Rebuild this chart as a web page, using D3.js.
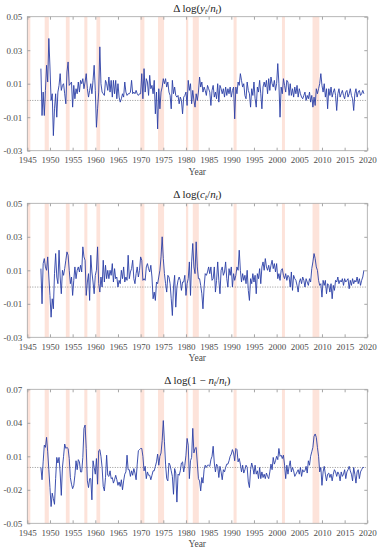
<!DOCTYPE html>
<html>
<head>
<meta charset="utf-8">
<script src="https://cdn.jsdelivr.net/npm/d3@7"></script>
<style>
  body { margin: 0; background: #fff; }
</style>
</head>
<body>
<div id="chart"></div>
<script>
// Quarterly growth rates, first observation 1948Q1
const start_year = 1948;

// Delta log(y/n)
const output_per_worker = [
  0.019, -0.009, 0.005, -0.009,   0.006, 0.021, 0.011, 0.037,   0.020, 0.000, 0.004, -0.021,
  -0.005, 0.004, -0.010, 0.005,   0.009, 0.016, 0.006, 0.009,   0.010, 0.004, -0.002, 0.017,
  0.023, 0.009, 0.010, 0.011,     -0.004, 0.009, 0.001, 0.007,  0.004, 0.011, 0.005, 0.012,
  0.010, 0.013, 0.007, 0.011,     0.016, 0.007, 0.002, 0.006,   0.010, 0.004, 0.012, 0.021,
  0.006, -0.016, -0.005, 0.005,   0.032, 0.010, 0.005, 0.004,   0.003, 0.012, 0.010, 0.006,
  0.014, 0.005, 0.012, 0.002,     0.012, 0.004, 0.012, 0.001,   0.010, 0.002, -0.001, 0.001,
  0.004, 0.002, 0.011, 0.005,     0.003, 0.004, 0.004, 0.005,   0.012, 0.004, 0.005, 0.004,
  0.006, 0.004, 0.003, 0.004,     0.004, 0.016, 0.001, 0.019,   0.005, 0.013, 0.011, 0.003,
  0.015, 0.007, 0.009, 0.004,     0.012, -0.008, 0.005, -0.017, 0.007, -0.005, 0.005, 0.008,
  0.013, 0.010, 0.013, 0.008,     0.011, 0.005, 0.003, -0.005,  0.012, 0.004, 0.008, 0.003,
  0.002, 0.003, -0.002, 0.002,    0.000, -0.008, 0.002, 0.003,  0.005, -0.003, 0.012, 0.006,
  0.010, -0.002, 0.006, 0.000,    -0.004, 0.004, 0.000, 0.005,  0.014, 0.008, 0.011, 0.005,
  0.008, 0.006, 0.003, 0.009,     0.007, 0.005, -0.003, 0.006,  0.009, 0.002, 0.005, 0.001,
  0.010, -0.001, 0.009, 0.007,    0.004, 0.007, 0.002, 0.008,   0.003, 0.007, 0.004, 0.008,
  0.002, 0.006, 0.008, -0.011,    0.008, 0.004, 0.011, 0.009,   0.016, 0.012, 0.008, 0.010,
  0.003, 0.001, 0.011, 0.006,     0.004, -0.004, 0.007, 0.003,  0.011, 0.001, -0.004, 0.008,
  0.005, 0.012, 0.004, -0.005,    0.008, 0.011, 0.008, 0.012,   0.004, 0.013, 0.006, 0.014,
  0.010, 0.008, 0.012, 0.006,     0.010, 0.022, 0.010, -0.010,  0.008, 0.004, 0.013, 0.009,
  0.005, 0.012, 0.011, 0.003,     0.010, 0.003, 0.007, 0.002,   0.008, 0.004, 0.009, 0.002,
  0.007, 0.004, 0.002, 0.001,     0.003, 0.005, 0.000, 0.003,   0.001, 0.005, -0.001, 0.003,
  -0.004, 0.002, -0.003, 0.007,   0.004, 0.007, 0.010, 0.016,   0.009, 0.005, 0.010, 0.002,
  0.007, -0.005, 0.007, 0.003,    0.008, 0.002, 0.005, 0.007,   0.003, -0.006, 0.004, 0.007,
  0.002, 0.004, 0.006, 0.003,     0.001, 0.005, 0.006, 0.002,   0.004, 0.007, 0.003, 0.001,
  -0.006, 0.004, 0.007, 0.002,    0.005, 0.006, 0.003, 0.004,   0.006, 0.004
];

// Delta log(c/n)
const consumption_per_worker = [
  0.011, -0.010, 0.014, 0.017,    0.012, 0.010, 0.018, 0.006,   -0.005, -0.018, -0.007, -0.013,
  0.008, 0.020, 0.006, 0.002,     0.022, 0.006, -0.004, 0.010,  0.007, 0.011, 0.016, 0.021,
  0.019, 0.010, 0.002, 0.006,     -0.005, 0.004, 0.012, 0.005,  0.010, 0.012, 0.009, 0.013,
  0.009, 0.024, 0.018, 0.016,     -0.005, 0.003, 0.008, -0.008, 0.019, 0.009, 0.003, -0.004,
  0.007, 0.010, 0.024, 0.002,     -0.003, 0.006, 0.000, 0.016,  0.003, 0.013, 0.005, 0.010,
  0.005, 0.010, 0.007, 0.014,     0.003, 0.011, 0.005, 0.006,   0.000, 0.004, 0.002, 0.010,
  0.005, 0.012, 0.003, 0.006,     0.004, 0.019, 0.005, 0.009,   0.011, 0.016, 0.005, 0.002,
  0.008, 0.012, 0.006, 0.010,     0.018, 0.016, 0.004, 0.005,   0.004, 0.012, 0.014, 0.011,
  0.009, 0.013, 0.006, -0.007,    -0.003, -0.008, 0.003, 0.002, 0.006, 0.010, 0.018, 0.030,
  0.017, 0.008, 0.002, -0.003,    0.007, 0.006, 0.002, -0.007,  -0.017, 0.000, 0.007, -0.012,
  0.000, 0.004, 0.006, 0.004,     -0.002, 0.003, 0.003, 0.007,  -0.005, 0.002, 0.005, 0.015,
  -0.005, 0.015, 0.026, 0.012,    0.008, 0.027, 0.012, 0.005,   0.005, 0.001, -0.004, -0.013,
  0.000, 0.008, 0.007, 0.009,     0.012, 0.008, 0.012, 0.004,   0.005, 0.012, -0.003, 0.004,
  0.015, 0.004, -0.004, 0.010,    0.012, 0.007, 0.009, 0.015,   0.005, 0.000, 0.011, 0.007,
  0.012, 0.000, 0.008, 0.004,     0.007, 0.012, 0.010, 0.022,   0.010, 0.003, 0.008, 0.004,
  0.007, 0.002, 0.010, -0.002,    -0.008, 0.005, 0.002, 0.008,  0.003, 0.007, -0.004, 0.008,
  0.005, 0.011, 0.002, 0.012,     0.015, 0.010, 0.017, 0.012,   0.010, 0.013, 0.009, 0.013,
  0.016, 0.011, 0.014, 0.009,     0.014, 0.005, 0.008, 0.004,   0.010, 0.011, 0.007, 0.005,
  0.008, 0.004, 0.007, 0.006,     0.000, 0.009, -0.002, 0.007,  0.005, 0.004, 0.001, -0.003,
  0.003, 0.005, 0.002, 0.006,     0.004, 0.000, 0.005, 0.003,   0.001, 0.005, 0.003, 0.011,
  0.015, 0.020, 0.017, 0.012,     0.010, 0.004, 0.001, 0.002,   -0.006, 0.004, 0.001, 0.004,
  -0.004, 0.002, 0.001, -0.003,   0.002, -0.007, 0.001, -0.002, 0.004, 0.003, 0.006, 0.002,
  0.004, 0.003, 0.005, 0.001,     0.005, 0.003, 0.004, 0.005,   -0.001, 0.004, 0.001, 0.005,
  0.002, 0.004, 0.003, 0.006,     0.002, 0.005, 0.001, 0.004,   0.006, 0.010
];

// Delta log(1 - n)
const leisure = [
  0.000, -0.011, 0.005, 0.020,    0.018, 0.027, 0.014, -0.002,  -0.018, -0.035, -0.023, -0.028,
  -0.033, -0.010, 0.009, 0.004,   0.009, -0.005, -0.025, 0.000, 0.010, 0.021, 0.017, 0.018,
  0.017, 0.008, -0.009, -0.015,   -0.019, -0.016, -0.007, 0.006, -0.002, 0.007, 0.005, -0.004,
  -0.004, 0.009, 0.035, 0.038,    0.017, -0.012, -0.018, -0.010, -0.010, -0.029, 0.006, 0.000,
  -0.006, 0.008, -0.015, 0.015,   0.016, 0.010, 0.000, -0.017,  -0.021, -0.009, 0.011, -0.007,
  -0.008, -0.003, -0.010, -0.009, -0.014, -0.011, -0.007, -0.011, -0.016, -0.013, -0.017, -0.011,
  -0.020, -0.012, -0.006, -0.004, 0.011, -0.002, -0.002, -0.008, -0.003, -0.007, -0.001, -0.005,
  -0.011, 0.003, 0.015, 0.016,    0.017, 0.017, 0.010, -0.003,  0.001, -0.010, -0.004, -0.007,
  -0.007, -0.011, -0.007, -0.003, -0.003, 0.001, 0.005, 0.012,  0.002, 0.010, 0.013, 0.024,
  0.042, 0.023, 0.003, -0.010,    -0.012, 0.004, 0.002, -0.003, -0.008, -0.024, -0.001, -0.005,
  -0.031, -0.006, -0.007, -0.003, 0.004, 0.005, -0.004, 0.002,  0.011, 0.026, 0.020, -0.010,
  0.006, 0.009, 0.035, 0.013,     0.017, 0.018, 0.004, -0.010,  -0.012, -0.021, -0.009, -0.014,
  -0.002, 0.002, 0.000, 0.002,    0.002, 0.001, 0.007, 0.010,   0.019, 0.004, -0.004, 0.003,
  0.001, -0.009, 0.001, -0.004,   -0.011, -0.002, -0.004, 0.000, 0.003, 0.003, 0.006, 0.010,
  0.012, 0.016, 0.013, 0.006,     0.017, 0.016, 0.005, 0.008,   0.003, -0.004, 0.002, -0.005,
  -0.002, 0.002, 0.000, -0.013,   -0.018, -0.002, 0.004, 0.000, -0.006, 0.002, -0.006, -0.003,
  -0.010, 0.000, -0.010, -0.004,  -0.009, -0.006, -0.010, -0.005, -0.008, -0.010, -0.004, 0.003,
  -0.002, 0.009, 0.003, 0.006,    0.010, 0.007, 0.017, 0.010,   0.011, 0.008, 0.011, 0.002,
  -0.010, 0.002, -0.006, 0.001,   0.006, -0.004, 0.000, -0.003, -0.008, -0.006, -0.004, -0.002,
  -0.006, 0.000, -0.008, -0.002,  -0.004, -0.003, 0.001, -0.005, 0.006, 0.002, 0.010, 0.014,
  0.018, 0.028, 0.030, 0.027,     0.018, 0.010, -0.004, 0.000,  -0.016, -0.004, 0.001, -0.006,
  -0.012, -0.006, -0.005, -0.009, -0.006, -0.012, -0.006, -0.002, -0.004, -0.008, -0.004, -0.006,
  -0.012, -0.004, -0.008, -0.006, -0.002, -0.010, -0.004, -0.002, 0.001, -0.003, -0.006, -0.012,
  0.000, -0.006, -0.014, -0.004,  -0.002, -0.010, -0.004, -0.002, 0.000, 0.000
];

// NBER recession spans (start, end) in fractional years
const recessions = [
  [1945.0, 1945.67], [1948.83, 1949.75], [1953.5, 1954.33], [1957.58, 1958.25],
  [1960.25, 1961.08], [1969.92, 1970.83], [1973.83, 1975.17], [1980.0, 1980.5],
  [1981.5, 1982.83], [1990.5, 1991.17], [2001.17, 2001.83], [2007.92, 2009.42]
];

const year_ticks = [1945, 1950, 1955, 1960, 1965, 1970, 1975, 1980, 1985, 1990, 1995, 2000, 2005, 2010, 2015, 2020];

const ticks_top = [-0.03, -0.01, 0.01, 0.03, 0.05];
const ticks_bottom = [-0.05, -0.02, 0.01, 0.04, 0.07];

const panels = [
  {values: output_per_worker, domain: [-0.03, 0.05], ticks: ticks_top,
   title: ['\u0394 log(', ['y', 't'], '/', ['n', 't'], ')']},
  {values: consumption_per_worker, domain: [-0.03, 0.05], ticks: ticks_top,
   title: ['\u0394 log(', ['c', 't'], '/', ['n', 't'], ')']},
  {values: leisure, domain: [-0.05, 0.07], ticks: ticks_bottom,
   title: ['\u0394 log(1 \u2212 ', ['n', 't'], '/', ['n', 't'], ')']}
];

const C = {
  width: 379,
  height: 550,
  left: 27.3,
  right: 367.3,
  tops: [16.7, 203.3, 389.3],
  panel_height: 134,
  line_color: '#2a3ea6',
  shade_color: '#fde3da',
  frame_color: '#a6a6a6',
  text_color: '#4d4d4d',
  font: '"Liberation Serif", "Times New Roman", "DejaVu Serif", serif',
  tick_len: 3
};

const svg = d3.select('#chart').append('svg')
  .attr('width', C.width)
  .attr('height', C.height)
  .attr('font-family', C.font);

const X = d3.scaleLinear().domain([1945, 2020]).range([C.left, C.right]);

panels.forEach((p, k) => {
  const top = C.tops[k];
  const bottom = top + C.panel_height;
  const Y = d3.scaleLinear().domain(p.domain).range([bottom, top]);
  const g = svg.append('g');

  // recession shading
  g.selectAll('rect.rec')
    .data(recessions)
    .join('rect')
    .attr('x', d => X(d[0]))
    .attr('width', d => X(d[1]) - X(d[0]))
    .attr('y', top)
    .attr('height', C.panel_height)
    .attr('fill', C.shade_color);

  // zero line
  g.append('line')
    .attr('x1', C.left).attr('x2', C.right)
    .attr('y1', Y(0)).attr('y2', Y(0))
    .attr('stroke', '#666')
    .attr('stroke-width', 0.7)
    .attr('stroke-dasharray', '1,1.5');

  // series
  const pts = p.values.map((v, i) => ({x: start_year + i / 4, y: v}));
  g.append('path')
    .datum(pts)
    .attr('fill', 'none')
    .attr('stroke', C.line_color)
    .attr('stroke-width', 0.9)
    .attr('stroke-linejoin', 'round')
    .attr('d', d3.line().x(d => X(d.x)).y(d => Y(d.y)));

  // axes: bottom with labels, top / right mirror ticks inward
  const fmt = d => String(d);
  const xb = g.append('g').attr('transform', `translate(0,${bottom})`)
    .call(d3.axisBottom(X).tickValues(year_ticks).tickFormat(d3.format('d'))
      .tickSizeInner(-C.tick_len).tickSizeOuter(0).tickPadding(6));
  const xt = g.append('g').attr('transform', `translate(0,${top})`)
    .call(d3.axisTop(X).tickValues(year_ticks).tickFormat('')
      .tickSizeInner(-C.tick_len).tickSizeOuter(0));
  const yl = g.append('g').attr('transform', `translate(${C.left},0)`)
    .call(d3.axisLeft(Y).tickValues(p.ticks).tickFormat(fmt)
      .tickSizeInner(-C.tick_len).tickSizeOuter(0).tickPadding(5));
  const yr = g.append('g').attr('transform', `translate(${C.right},0)`)
    .call(d3.axisRight(Y).tickValues(p.ticks).tickFormat('')
      .tickSizeInner(-C.tick_len).tickSizeOuter(0));

  [xb, xt, yl, yr].forEach(a => {
    a.attr('font-family', C.font);
    a.select('.domain').remove();
    a.selectAll('line').attr('stroke', C.frame_color);
    a.selectAll('text')
      .attr('fill', C.text_color)
      .attr('font-size', 9);
  });

  // frame
  g.append('rect')
    .attr('x', C.left).attr('y', top)
    .attr('width', C.right - C.left).attr('height', C.panel_height)
    .attr('fill', 'none')
    .attr('stroke', C.frame_color)
    .attr('stroke-width', 0.8);

  // title with italic variables and subscripts
  const title = g.append('text')
    .attr('x', (C.left + C.right) / 2)
    .attr('y', top - 5)
    .attr('text-anchor', 'middle')
    .attr('fill', '#222')
    .attr('font-size', 11);
  p.title.forEach(part => {
    if (typeof part === 'string') {
      title.append('tspan').text(part);
    } else {
      title.append('tspan').attr('font-style', 'italic').text(part[0]);
      title.append('tspan').attr('font-style', 'italic')
        .attr('baseline-shift', '-25%').attr('font-size', 7.5).text(part[1]);
    }
  });

  g.append('text')
    .attr('x', (C.left + C.right) / 2)
    .attr('y', bottom + 24)
    .attr('text-anchor', 'middle')
    .attr('fill', C.text_color)
    .attr('font-size', 9.5)
    .text('Year');
});
</script>
</body>
</html>
